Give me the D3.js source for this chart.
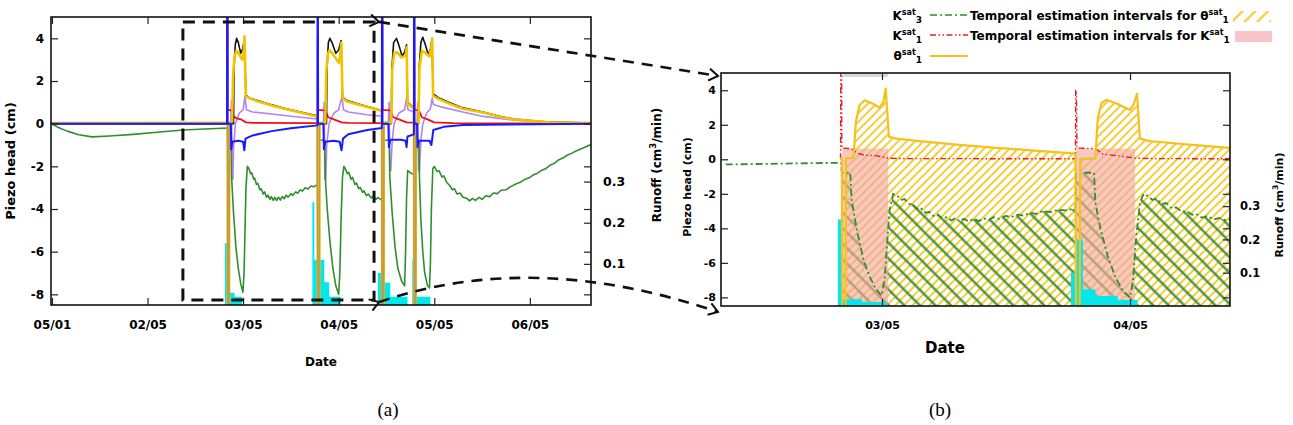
<!DOCTYPE html>
<html>
<head>
<meta charset="utf-8">
<script src="https://cdn.jsdelivr.net/npm/d3@7"></script>
<style>
  body { margin: 0; background: #fff; }
  svg text { font-family: "DejaVu Sans", sans-serif; font-weight: bold; fill: #000; }
  svg text.cap { font-family: "Liberation Serif", serif; font-weight: normal; }
</style>
</head>
<body>
<svg id="fig" width="1293" height="425"></svg>
<script>
// tick values / labels
const dayTicks = [1, 2, 3, 4, 5, 6];
const dayLabels = ['05/01', '02/05', '03/05', '04/05', '05/05', '06/05'];
const zoomDayTicks = [3, 4];
const zoomDayLabels = ['03/05', '04/05'];
const headTicks = [-8, -6, -4, -2, 0, 2, 4];
const headLabels = ['-8', '-6', '-4', '-2', '0', '2', '4'];
const runoffTicks = [0.1, 0.2, 0.3];
const runoffLabels = ['0.1', '0.2', '0.3'];

// K^sat_1 estimation windows (days) and their top (cm)
const kWindowStart = [2.84, 3.78];
const kWindowEnd = [3.025, 4.02];
const kWindowTop = [0.62, 0.62];

// zoom window drawn on panel (a)
const zoomDays = [2.37, 4.37];
const zoomHead = [-8.27, 4.77];

// series: [day, value]
const theta = [
  [0.99,0.03],[2.83,0.04],[2.838,0.04],[2.84,-9],[2.853,-9],[2.855,0.05],[2.885,0.1],[2.895,2.2],[2.91,3.15],[2.93,3.42],[2.96,3.25],[2.99,3.0],[3.005,3.3],[3.015,4.1],[3.028,1.3],[3.06,1.2],[3.15,1.05],[3.3,0.85],[3.45,0.68],[3.6,0.52],[3.77,0.34],
  [3.78,0.32],[3.782,-9],[3.797,-9],[3.799,0.03],[3.86,0.05],[3.87,2.4],[3.885,3.25],[3.905,3.45],[3.95,3.2],[4.0,2.85],[4.015,3.2],[4.028,3.8],[4.04,1.2],[4.08,1.05],[4.2,0.9],[4.3,0.78],[4.4,0.66],[4.453,0.6],
  [4.455,-9],[4.47,-9],[4.472,0.05],[4.55,0.05],[4.56,2.5],[4.58,3.3],[4.61,3.35],[4.66,3.1],[4.7,3.2],[4.712,3.6],[4.72,0.95],[4.76,0.8],[4.788,0.72],
  [4.79,-9],[4.805,-9],[4.807,0.05],[4.835,0.05],[4.845,2.6],[4.87,3.4],[4.9,3.35],[4.95,3.15],[4.97,3.6],[4.978,4.0],[4.988,1.3],[5.05,1.15],[5.15,0.95],[5.3,0.7],[5.51,0.52],[5.7,0.3],[5.86,0.19],[6.21,0.06],[6.64,0.03]
];

const blackHead = [
  [0.99,0],[2.9,0],[2.905,2.6],[2.918,3.7],[2.932,4.0],[2.95,3.8],[2.975,3.3],[2.995,3.5],[3.012,3.9],[3.03,1.35],[3.06,1.22],[3.15,1.08],[3.3,0.88],[3.45,0.7],[3.6,0.55],[3.76,0.38],[3.78,0.36],[3.782,0],
  [3.872,0],[3.878,2.6],[3.892,3.8],[3.908,4.0],[3.93,3.8],[3.97,3.3],[4.0,3.45],[4.025,3.9],[4.04,1.25],[4.08,1.1],[4.2,0.93],[4.3,0.8],[4.4,0.68],[4.453,0.62],[4.455,0],
  [4.55,0],[4.557,2.6],[4.575,3.8],[4.605,4.0],[4.635,3.6],[4.665,3.15],[4.69,3.35],[4.71,3.7],[4.72,1.0],[4.76,0.85],[4.788,0.76],[4.79,0],
  [4.835,0],[4.842,2.6],[4.86,3.8],[4.88,4.05],[4.91,3.65],[4.94,3.2],[4.96,3.5],[4.975,3.9],[4.99,1.4],[5.05,1.2],[5.15,1.0],[5.3,0.74],[5.51,0.55],[5.7,0.32],[5.86,0.2],[6.21,0.07],[6.64,0.03]
];

const tanHead = [
  [0.99,0],[2.838,0],[2.84,-9],[2.853,-9],[2.855,0],[2.885,0],[2.886,null],
  [3.775,0],[3.782,-9],[3.797,-9],[3.799,0],[3.86,0],[3.861,null],
  [4.45,0],[4.455,-9],[4.47,-9],[4.472,0],[4.55,0],[4.551,null],
  [4.785,0],[4.79,-9],[4.805,-9],[4.807,0],[4.835,0]
];

const redK1 = [
  [0.99,0],[2.833,0],[2.834,6],[2.837,6],[2.838,0.65],[2.875,0.62],[2.9,0.35],[2.93,0.25],[2.98,0.2],[3.03,0.06],[3.1,0.04],[3.78,0.03],
  [3.781,4.0],[3.784,4.0],[3.786,0.65],[3.86,0.62],[3.89,0.3],[3.95,0.2],[4.03,0.06],[4.1,0.04],[4.453,0.03],
  [4.454,6],[4.457,6],[4.459,0.65],[4.54,0.62],[4.57,0.3],[4.63,0.2],[4.71,0.06],[4.788,0.05],
  [4.789,6],[4.792,6],[4.794,0.65],[4.84,0.62],[4.87,0.3],[4.93,0.2],[5.0,0.06],[5.2,0.03],[6.64,0]
];

const blueHead = [
  [0.99,0],[2.832,0],[2.833,6],[2.837,6],[2.838,0],[2.872,0],[2.876,-1.2],[2.886,-0.85],[2.95,-0.8],[3.0,-0.85],[3.013,-1.25],[3.025,-0.7],[3.1,-0.55],[3.3,-0.35],[3.5,-0.22],[3.778,-0.08],
  [3.779,6],[3.783,6],[3.784,0],[3.84,0],[3.845,-1.2],[3.86,-0.85],[3.95,-0.8],[4.01,-0.85],[4.03,-1.25],[4.045,-0.7],[4.1,-0.5],[4.3,-0.3],[4.452,-0.2],
  [4.453,6],[4.457,6],[4.458,0],[4.52,0],[4.525,-1.1],[4.54,-0.75],[4.65,-0.75],[4.7,-0.8],[4.71,-1.1],[4.72,-0.6],[4.787,-0.5],
  [4.788,6],[4.792,6],[4.793,0],[4.82,0],[4.825,-1.1],[4.84,-0.8],[4.95,-0.8],[4.97,-1.0],[4.99,-0.3],[5.1,-0.15],[5.3,-0.06],[6.64,0]
];

const purpleHead = [
  [0.99,0],[2.87,0],[2.878,1.1],[2.885,-2.6],[2.893,-2.6],[2.9,-1.1],[2.92,0],[2.96,0.5],[3.0,0.65],[3.02,1.3],[3.035,0.65],[3.1,0.55],[3.3,0.45],[3.5,0.35],[3.78,0.22],
  [3.785,0],[3.84,0],[3.848,1.0],[3.855,-2.6],[3.865,-2.6],[3.875,-1.0],[3.9,0],[3.95,0.5],[4.0,0.65],[4.035,1.3],[4.05,0.65],[4.1,0.55],[4.3,0.42],[4.453,0.35],
  [4.458,0],[4.52,0],[4.527,1.0],[4.535,-2.2],[4.545,-2.2],[4.56,-0.8],[4.58,0],[4.63,0.5],[4.69,0.65],[4.712,1.25],[4.725,0.65],[4.788,0.55],
  [4.793,0],[4.82,0],[4.827,1.0],[4.835,-2.2],[4.845,-2.2],[4.86,-0.8],[4.88,0],[4.92,0.5],[4.96,0.7],[4.978,1.2],[4.99,0.9],[5.06,0.8],[5.3,0.55],[5.51,0.34],[5.8,0.18],[6.03,0.1],[6.64,0.03]
];

const greenK3 = [
  [0.99,0],[1.08,-0.2],[1.16,-0.35],[1.28,-0.52],[1.42,-0.62],[1.6,-0.58],[1.85,-0.5],[2.1,-0.4],[2.37,-0.3],[2.6,-0.25],[2.835,-0.2],
  [2.838,-0.78],[2.872,-0.78],[2.878,-2.4],[2.9,-4.2],[2.925,-5.8],[2.95,-6.8],[2.975,-7.5],[2.998,-7.9],[3.01,-7.0],[3.02,-5.0],[3.03,-3.0],[3.045,-2.0],
  [3.06,-2.1],[3.08,-2.35],[3.09,-2.3],[3.11,-2.6],[3.12,-2.55],[3.14,-2.85],[3.155,-2.8],[3.175,-3.1],[3.19,-3.05],[3.21,-3.3],[3.225,-3.2],[3.245,-3.45],[3.26,-3.35],[3.28,-3.55],[3.295,-3.42],[3.315,-3.6],[3.33,-3.45],[3.35,-3.6],[3.37,-3.45],[3.39,-3.58],[3.41,-3.42],[3.43,-3.52],[3.45,-3.35],[3.47,-3.45],[3.5,-3.28],[3.52,-3.36],[3.55,-3.2],[3.57,-3.26],[3.6,-3.1],[3.62,-3.16],[3.65,-3.0],[3.68,-3.06],[3.71,-2.92],[3.74,-2.96],[3.78,-2.85],
  [3.782,-0.78],[3.855,-0.78],[3.86,-2.5],[3.88,-4.0],[3.91,-5.6],[3.94,-6.8],[3.97,-7.6],[4.0,-8.0],[4.012,-7.0],[4.025,-4.5],[4.04,-2.5],[4.055,-2.0],
  [4.07,-2.12],[4.09,-2.35],[4.105,-2.28],[4.13,-2.6],[4.145,-2.52],[4.17,-2.85],[4.185,-2.78],[4.21,-3.05],[4.225,-2.98],[4.25,-3.22],[4.265,-3.15],[4.29,-3.38],[4.31,-3.3],[4.34,-3.48],[4.36,-3.4],[4.39,-3.55],[4.41,-3.46],[4.44,-3.56],[4.455,-3.5],
  [4.458,-0.78],[4.53,-0.78],[4.535,-2.5],[4.56,-4.2],[4.59,-5.8],[4.62,-6.8],[4.66,-7.4],[4.69,-7.6],[4.7,-6.0],[4.71,-3.5],[4.722,-2.2],[4.75,-2.3],[4.79,-2.4],
  [4.793,-0.78],[4.84,-0.78],[4.845,-2.5],[4.86,-4.5],[4.88,-6.0],[4.9,-7.0],[4.93,-7.6],[4.95,-7.7],[4.96,-6.5],[4.97,-4.0],[4.985,-2.1],[5.0,-2.0],
  [5.03,-2.25],[5.05,-2.2],[5.08,-2.5],[5.1,-2.45],[5.13,-2.75],[5.16,-2.9],[5.19,-3.1],[5.21,-3.05],[5.24,-3.3],[5.27,-3.25],[5.3,-3.45],[5.34,-3.5],[5.37,-3.62],[5.4,-3.5],[5.43,-3.6],[5.47,-3.45],[5.5,-3.55],[5.54,-3.38],[5.58,-3.42],[5.62,-3.25],[5.66,-3.28],[5.7,-3.12],[5.75,-3.1],[5.8,-2.95],[5.86,-2.82],[5.9,-2.75],[5.95,-2.6],[6.0,-2.52],[6.03,-2.42],[6.08,-2.32],[6.12,-2.2],[6.17,-2.1],[6.21,-1.95],[6.26,-1.85],[6.3,-1.7],[6.35,-1.6],[6.39,-1.48],[6.44,-1.38],[6.5,-1.25],[6.57,-1.12],[6.64,-0.98]
];

// runoff (cm3/min), step values
const runoffA = [
  [0.99,0],[2.81,0.15],[2.86,0.03],[2.91,0.02],[2.99,0],
  [3.725,0.25],[3.745,0.11],[3.85,0.055],[3.9,0.02],[4.02,0],
  [4.41,0.078],[4.48,0.054],[4.54,0.02],[4.72,0],
  [4.77,0.11],[4.82,0.02],[4.96,0],[6.64,0]
];
const runoffB = [
  [2.351,0],[2.822,0.26],[2.84,0.02],[2.92,0.012],[3.02,0],
  [3.762,0.1],[3.785,0.2],[3.81,0.05],[3.86,0.03],[3.95,0.018],[4.03,0],[4.403,0]
];

const svg = d3.select('#fig');
const defs = svg.append('defs');

// scales
const xA = d3.scaleLinear().domain([0.99, 6.64]).range([51, 591]);
const yA = d3.scaleLinear().domain([-8.5, 5]).range([305, 17]);
const qA = d3.scaleLinear().domain([0, 0.7]).range([305, 17]);

const xB = d3.scaleLinear().domain([2.351, 4.403]).range([721, 1230]);
const yB = d3.scaleLinear().domain([-8.5, 5]).range([306, 73]);
const qB = d3.scaleLinear().domain([0, 0.7]).range([306, 73]);

function addClip(id, x, y) {
  defs.append('clipPath').attr('id', id).append('rect')
    .attr('x', x.range()[0]).attr('y', y.range()[1])
    .attr('width', x.range()[1] - x.range()[0])
    .attr('height', y.range()[0] - y.range()[1]);
}
addClip('clipA', xA, yA);
addClip('clipB', xB, yB);

function hatch(id, size, angle, color, width) {
  defs.append('pattern').attr('id', id)
    .attr('patternUnits', 'userSpaceOnUse')
    .attr('width', size).attr('height', size)
    .attr('patternTransform', `rotate(${angle})`)
    .append('line')
    .attr('x1', size / 2).attr('y1', 0).attr('x2', size / 2).attr('y2', size)
    .attr('stroke', color).attr('stroke-width', width);
}
hatch('hatchY', 6, 45, '#f3c41c', 1.7);
hatch('hatchYL', 9, 45, '#f3c41c', 2);
hatch('hatchG', 11, -45, '#3b8f2a', 2.2);

// open chevron arrowheads for the zoom connectors
defs.append('marker').attr('id', 'chev')
  .attr('viewBox', '-1 -7 12 14').attr('refX', 9).attr('refY', 0)
  .attr('markerWidth', 12).attr('markerHeight', 14)
  .attr('markerUnits', 'userSpaceOnUse').attr('orient', 'auto')
  .append('path').attr('d', 'M0,-6L9,0L0,6')
  .attr('fill', 'none').attr('stroke', '#111').attr('stroke-width', 2);

const lineFn = (x, y) => d3.line()
  .defined(d => d[1] !== null)
  .x(d => x(d[0])).y(d => y(d[1]));

function drawLine(g, data, x, y, color, width, dash) {
  g.append('path').datum(data)
    .attr('d', lineFn(x, y))
    .attr('fill', 'none')
    .attr('stroke', color)
    .attr('stroke-width', width)
    .attr('stroke-linejoin', 'round')
    .attr('stroke-dasharray', dash || null);
}

function drawRunoff(g, data, x, q) {
  g.append('path').datum(data)
    .attr('d', d3.area().curve(d3.curveStepAfter)
      .x(d => x(d[0])).y0(q(0)).y1(d => q(d[1])))
    .attr('fill', '#00e8ee');
}

function styleAxis(a, size) {
  a.select('.domain').remove();
  a.selectAll('.tick line').attr('stroke', '#222').attr('stroke-width', 1.2);
  a.selectAll('.tick text').style('font-size', size + 'px').attr('fill', '#000');
}

function frame(x, y) {
  svg.append('rect')
    .attr('x', x.range()[0]).attr('y', y.range()[1])
    .attr('width', x.range()[1] - x.range()[0])
    .attr('height', y.range()[0] - y.range()[1])
    .attr('fill', 'none').attr('stroke', '#111').attr('stroke-width', 1.6);
}

function axes(x, y, q, xt, xl, fs, yPad, qPad, xPad) {
  const x0 = x.range()[0], x1 = x.range()[1], y0 = y.range()[0], y1 = y.range()[1];
  const fmt = (vals, labs) => d => labs[vals.indexOf(d)];
  styleAxis(svg.append('g').attr('transform', `translate(0,${y0})`)
    .call(d3.axisBottom(x).tickValues(xt).tickSize(-7).tickPadding(xPad).tickFormat(fmt(xt, xl))), fs);
  styleAxis(svg.append('g').attr('transform', `translate(0,${y1})`)
    .call(d3.axisTop(x).tickValues(xt).tickSize(-7).tickFormat('')), fs);
  styleAxis(svg.append('g').attr('transform', `translate(${x0},0)`)
    .call(d3.axisLeft(y).tickValues(headTicks).tickSize(-7).tickPadding(yPad).tickFormat(fmt(headTicks, headLabels))), fs);
  styleAxis(svg.append('g').attr('transform', `translate(${x1},0)`)
    .call(d3.axisRight(y).tickValues(headTicks).tickSize(-7).tickFormat('')), fs);
  styleAxis(svg.append('g').attr('transform', `translate(${x1},0)`)
    .call(d3.axisRight(q).tickValues(runoffTicks).tickSize(-7).tickPadding(qPad).tickFormat(fmt(runoffTicks, runoffLabels))), fs + 0.5);
}

function vLabel(x, y, size, parts) {
  const t = svg.append('text')
    .attr('transform', `translate(${x},${y}) rotate(-90)`)
    .attr('text-anchor', 'middle').attr('dy', '0.35em')
    .style('font-size', size + 'px');
  parts.forEach(p => {
    const s = t.append('tspan').text(p.t);
    if (p.sup) s.attr('dy', -size * 0.4).style('font-size', (size * 0.7) + 'px');
    if (p.back) s.attr('dy', size * 0.4);
  });
}

// ---------- panel (a) ----------
const gA = svg.append('g').attr('clip-path', 'url(#clipA)');
drawRunoff(gA, runoffA, xA, qA);
drawLine(gA, purpleHead, xA, yA, '#b085f2', 1.6);
drawLine(gA, greenK3, xA, yA, '#2f8f2f', 1.6);
drawLine(gA, redK1, xA, yA, '#f01010', 1.8);
drawLine(gA, blackHead, xA, yA, '#111', 1.6);
drawLine(gA, theta, xA, yA, '#f2c200', 2.6);
drawLine(gA, tanHead, xA, yA, '#c29a4c', 1.5);
drawLine(gA, blueHead, xA, yA, '#1a1aff', 2);

frame(xA, yA);
axes(xA, yA, qA, dayTicks, dayLabels, 12, 7, 12, 15);

svg.append('text').attr('x', 321).attr('y', 366).attr('text-anchor', 'middle')
  .style('font-size', '12px').text('Date');
vLabel(10, 161, 13, [{ t: 'Piezo head (cm)' }]);

// zoom window and connectors
svg.append('rect')
  .attr('x', xA(zoomDays[0])).attr('y', yA(zoomHead[1]))
  .attr('width', xA(zoomDays[1]) - xA(zoomDays[0]))
  .attr('height', yA(zoomHead[0]) - yA(zoomHead[1]))
  .attr('fill', 'none').attr('stroke', '#111').attr('stroke-width', 3)
  .attr('stroke-dasharray', '12,8');

const tipX = xB.range()[0] - 3;
svg.append('path')
  .attr('d', `M${xA(zoomDays[1]) + 5},${yA(zoomHead[1])}L${tipX},${yB.range()[1] + 3}`)
  .attr('fill', 'none').attr('stroke', '#111').attr('stroke-width', 2.6)
  .attr('stroke-dasharray', '11,8')
  .attr('marker-start', 'url(#chev)').attr('marker-end', 'url(#chev)');
svg.append('path')
  .attr('d', `M${xA(zoomDays[1]) + 5},${yA(zoomHead[0]) + 2}Q533,249 ${tipX},${yB.range()[0] + 6}`)
  .attr('fill', 'none').attr('stroke', '#111').attr('stroke-width', 2.6)
  .attr('stroke-dasharray', '11,8')
  .attr('marker-start', 'url(#chev)').attr('marker-end', 'url(#chev)');

// ---------- panel (b) ----------
const gB = svg.append('g').attr('clip-path', 'url(#clipB)');
const areaUnder = d3.area().x(d => xB(d[0])).y0(yB.range()[0]).y1(d => yB(d[1]));

gB.append('path').datum(theta.filter(d => d[0] >= 2.855))
  .attr('d', areaUnder).attr('fill', 'url(#hatchY)');
gB.append('path').datum(greenK3.filter(d => d[0] >= 2.838))
  .attr('d', areaUnder).attr('fill', 'url(#hatchG)');

gB.selectAll('.kwin').data(kWindowStart).enter().append('rect')
  .attr('class', 'kwin')
  .attr('x', d => xB(d))
  .attr('y', (d, i) => yB(kWindowTop[i]))
  .attr('width', (d, i) => xB(kWindowEnd[i]) - xB(d))
  .attr('height', (d, i) => yB.range()[0] - yB(kWindowTop[i]))
  .attr('fill', '#f3a6a0').attr('opacity', 0.62);

gB.append('rect')
  .attr('x', xB(kWindowStart[0])).attr('y', yB.range()[1])
  .attr('width', xB(kWindowEnd[0]) - xB(kWindowStart[0])).attr('height', 4)
  .attr('fill', '#d9d9d9');

drawRunoff(gB, runoffB, xB, qB);
drawLine(gB, greenK3.filter(d => d[0] >= 2.351), xB, yB, '#2f8f2f', 1.8, '7,3,2,3');
drawLine(gB, redK1.filter(d => d[0] >= 2.3), xB, yB, '#ee1c1c', 1.4, '6,2.5,1.5,2.5,1.5,2.5');
drawLine(gB, theta.filter(d => d[0] >= 2.3), xB, yB, '#f5c21b', 2.2);

frame(xB, yB);
axes(xB, yB, qB, zoomDayTicks, zoomDayLabels, 11, 5, 10, 15);

svg.append('text').attr('x', 945).attr('y', 353).attr('text-anchor', 'middle')
  .style('font-size', '15px').text('Date');
vLabel(687, 187, 11, [{ t: 'Piezo head (cm)' }]);
vLabel(657, 165, 12, [{ t: 'Runoff (cm' }, { t: '3', sup: true }, { t: '/min)', back: true }]);
vLabel(1279, 205, 11, [{ t: 'Runoff (cm' }, { t: '3', sup: true }, { t: '/min)', back: true }]);

// ---------- legend ----------
const leg = svg.append('g');
function satText(x, y, base, sub, anchor, prefix) {
  const t = leg.append('text').attr('x', x).attr('y', y)
    .attr('text-anchor', anchor).style('font-size', '12px');
  if (prefix) t.append('tspan').text(prefix);
  t.append('tspan').text(base);
  t.append('tspan').attr('dy', -5).style('font-size', '8px').text('sat');
  t.append('tspan').attr('dy', 8).style('font-size', '9px').text(sub);
}
const legRows = [20, 40, 60];
satText(922, legRows[0], 'K', '3', 'end');
satText(922, legRows[1], 'K', '1', 'end');
satText(922, legRows[2], '\u03b8', '1', 'end');
satText(970, legRows[0], '\u03b8', '1', 'start', 'Temporal estimation intervals for ');
satText(970, legRows[1], 'K', '1', 'start', 'Temporal estimation intervals for ');

const legLine = (y, color, w, dash) => leg.append('line')
  .attr('x1', 930).attr('x2', 968).attr('y1', y).attr('y2', y)
  .attr('stroke', color).attr('stroke-width', w).attr('stroke-dasharray', dash || null);
legLine(legRows[0] - 5, '#2f8f2f', 1.6, '7,3,2,3');
legLine(legRows[1] - 5, '#ee1c1c', 1.4, '6,2.5,1.5,2.5,1.5,2.5');
legLine(legRows[2] - 4, '#f5c21b', 2.2);

leg.append('rect').attr('x', 1233).attr('y', 11).attr('width', 38).attr('height', 11)
  .attr('fill', 'url(#hatchYL)');
leg.append('rect').attr('x', 1235).attr('y', 31).attr('width', 37).attr('height', 11)
  .attr('fill', '#f8c6c9');

// captions
svg.append('text').attr('class', 'cap').attr('x', 388).attr('y', 416)
  .attr('text-anchor', 'middle').style('font-size', '19px').text('(a)');
svg.append('text').attr('class', 'cap').attr('x', 940).attr('y', 416)
  .attr('text-anchor', 'middle').style('font-size', '19px').text('(b)');
</script>
</body>
</html>
